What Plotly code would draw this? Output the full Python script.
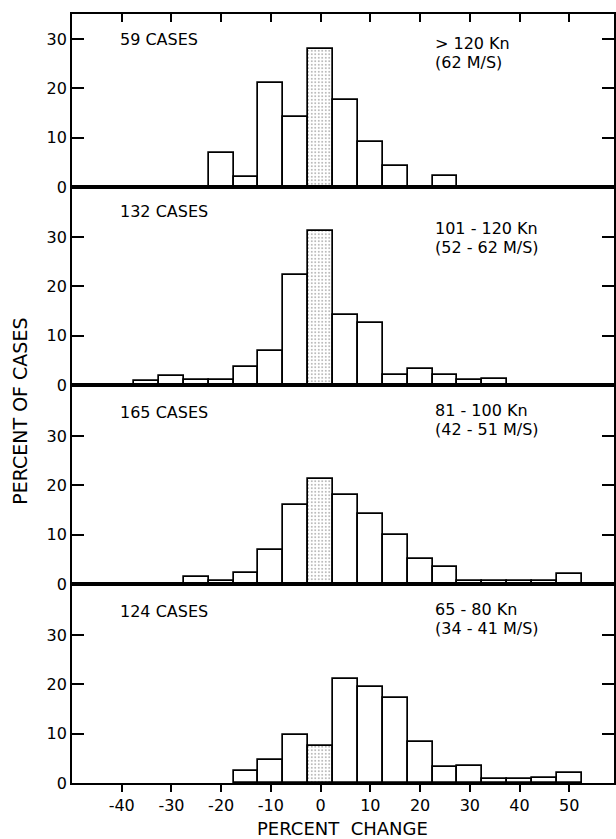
import plotly.graph_objects as go

# ---- data ----
bin_centers = [-35, -30, -25, -20, -15, -10, -5, 0, 5, 10, 15, 20, 25, 30, 35, 40, 45, 50]

pct_gt120 = [0, 0, 0, 6.9, 2.0, 21.0, 14.1, 27.9, 17.7, 9.1, 4.2, 0, 2.2, 0, 0, 0, 0, 0]
pct_101_120 = [0.8, 1.9, 1.1, 1.1, 3.7, 6.9, 22.3, 31.2, 14.1, 12.5, 2.0, 3.3, 2.0, 1.1, 1.2, 0, 0, 0]
pct_81_100 = [0, 0, 1.5, 0.7, 2.2, 6.8, 16.1, 21.2, 18.0, 14.3, 10.0, 5.0, 3.4, 0.6, 0.6, 0.6, 0.7, 2.0]
pct_65_80 = [0, 0, 0, 0, 2.5, 4.7, 9.7, 7.5, 21.0, 19.4, 17.3, 8.4, 3.2, 3.4, 0.8, 0.8, 1.0, 2.0]

case_labels = ["59 CASES", "132 CASES", "165 CASES", "124 CASES"]
speed_labels = ["> 120 Kn", "101 - 120 Kn", "81 - 100 Kn", "65 - 80 Kn"]
ms_labels = ["(62 M/S)", "(52 - 62 M/S)", "(42 - 51 M/S)", "(34 - 41 M/S)"]

x_tick_vals = [-40, -30, -20, -10, 0, 10, 20, 30, 40, 50]
x_tick_text = ["-40", "-30", "-20", "-10", "0", "10", "20", "30", "40", "50"]
y_tick_vals = [0, 10, 20, 30]
y_tick_text = ["0", "10", "20", "30"]

shaded_bin = 0

panels = [pct_gt120, pct_101_120, pct_81_100, pct_65_80]

# ---- layout geometry ----
W, H = 616, 839
ML, MR, MT, MB = 72, 0, 14, 56
plot_h = H - MT - MB  # 769
# panel boundaries in pixels from bottom of plot area
bounds = [(596, 769), (398, 596), (199, 398), (0, 199)]
px_per_unit = 4.93

FONT = "DejaVu Sans"
fig = go.Figure()

for i, vals in enumerate(panels):
    n = i + 1
    xs = [c for c, v in zip(bin_centers, vals) if v > 0]
    ys = [v for v in vals if v > 0]
    shapes = ["." if c == shaded_bin else "" for c in xs]
    fig.add_trace(go.Bar(
        x=xs, y=ys, width=5,
        xaxis="x" if n == 1 else f"x{n}",
        yaxis="y" if n == 1 else f"y{n}",
        marker=dict(
            color="white",
            line=dict(color="black", width=1.7),
            pattern=dict(shape=shapes, fgcolor="#555555", bgcolor="white",
                         size=3.5, solidity=0.22),
        ),
        showlegend=False,
    ))

layout = dict(
    width=W, height=H,
    margin=dict(l=ML, r=MR, t=MT, b=MB),
    paper_bgcolor="white", plot_bgcolor="white",
    font=dict(family=FONT, color="black", size=16),
    bargap=0,
)

annotations = []
for i in range(4):
    n = i + 1
    xk = "xaxis" if n == 1 else f"xaxis{n}"
    yk = "yaxis" if n == 1 else f"yaxis{n}"
    lo, hi = bounds[i]
    ymax = (hi - lo) / px_per_unit
    xa = dict(
        domain=[0, 1], range=[-50, 59],
        anchor="y" if n == 1 else f"y{n}",
        showline=True, linecolor="black", linewidth=1.6, mirror=True,
        showgrid=False, zeroline=False,
        tickvals=x_tick_vals, ticktext=x_tick_text,
        showticklabels=False, ticks="",
    )
    if n > 1:
        xa["matches"] = "x"
    if n == 1:
        xa.update(side="top", ticks="inside", ticklen=8, tickwidth=1.5, tickcolor="black")
    if n == 4:
        xa.update(ticks="outside", ticklen=7, tickwidth=1.5, tickcolor="black",
                  showticklabels=True, tickfont=dict(family=FONT, size=16))
    ya = dict(
        domain=[lo / plot_h, hi / plot_h], range=[0, ymax],
        anchor="x" if n == 1 else f"x{n}",
        showline=True, linecolor="black", linewidth=1.8, mirror="ticks",
        showgrid=False, zeroline=False,
        tickvals=y_tick_vals, ticktext=y_tick_text,
        ticks="inside", ticklen=12, tickwidth=1.5, tickcolor="black",
        tickfont=dict(family=FONT, size=16),
    )
    layout[xk] = xa
    layout[yk] = ya

    xr = "x" if n == 1 else f"x{n}"
    yr = "y" if n == 1 else f"y{n}"
    base_px = 783 - lo
    case_y = [39, 212, 412, 611][i]
    sp_y = [43, 229, 410, 609][i]
    ms_y = [62, 248, 429, 628][i]
    annotations.append(dict(x=-40.8, y=(base_px - case_y) / px_per_unit, xref=xr, yref=yr,
                            text=case_labels[i], showarrow=False, xanchor="left", yanchor="middle",
                            font=dict(family=FONT, size=16)))
    annotations.append(dict(x=22.5, y=(base_px - sp_y) / px_per_unit, xref=xr, yref=yr,
                            text=speed_labels[i], showarrow=False, xanchor="left", yanchor="middle",
                            font=dict(family=FONT, size=16)))
    annotations.append(dict(x=22.5, y=(base_px - ms_y) / px_per_unit, xref=xr, yref=yr,
                            text=ms_labels[i], showarrow=False, xanchor="left", yanchor="middle",
                            font=dict(family=FONT, size=16)))

annotations.append(dict(x=(19.5 - ML) / (W - ML - MR), y=(783 - 411) / plot_h,
                        xref="paper", yref="paper", text="PERCENT OF CASES", textangle=-90,
                        showarrow=False, xanchor="center", yanchor="middle",
                        font=dict(family=FONT, size=19)))
annotations.append(dict(x=(343 - ML) / (W - ML - MR), y=(783 - 828) / plot_h,
                        xref="paper", yref="paper", text="PERCENT  CHANGE",
                        showarrow=False, xanchor="center", yanchor="middle",
                        font=dict(family=FONT, size=18)))
layout["annotations"] = annotations

fig.update_layout(**layout)
fig.write_html("out.html")
